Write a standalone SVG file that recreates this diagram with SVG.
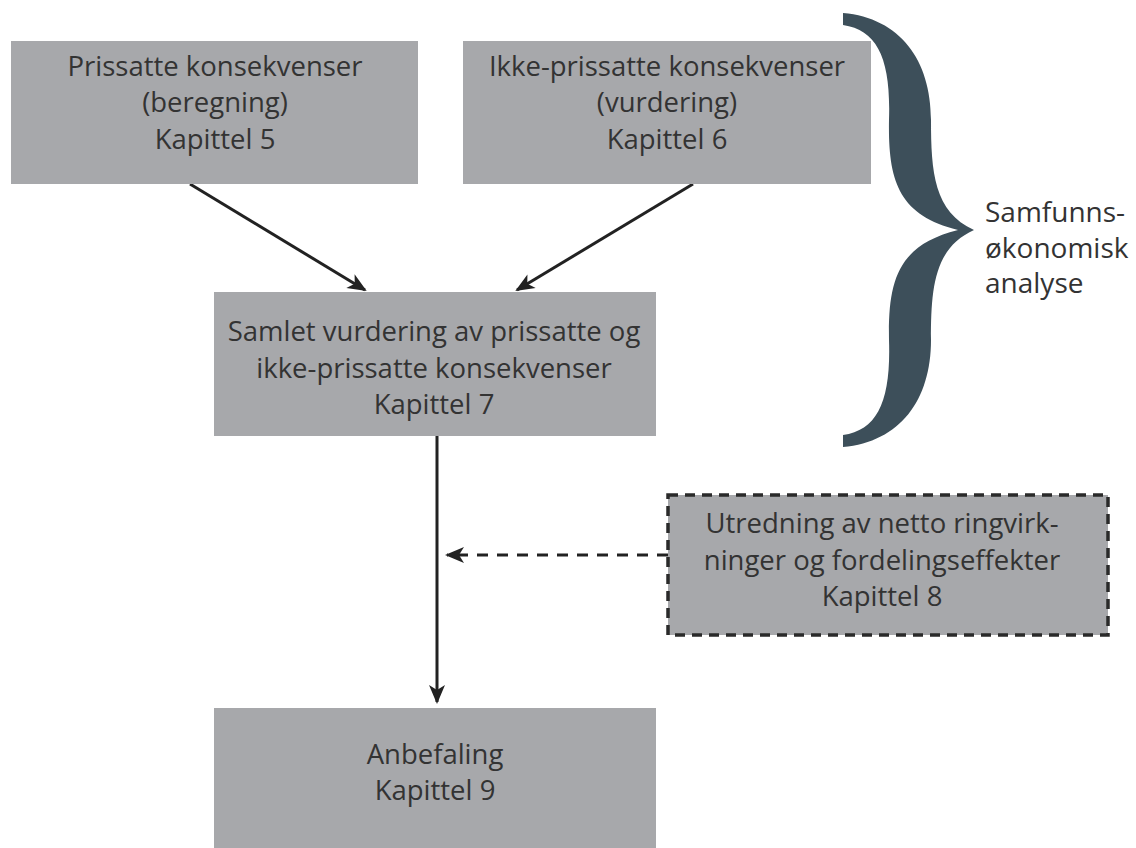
<svg xmlns="http://www.w3.org/2000/svg" width="1136" height="848" viewBox="0 0 1136 848">
<style>
.box{fill:#a7a8ab}
.dash{fill:#a7a8ab;stroke:#2a2a2a;stroke-width:3.5;stroke-dasharray:10 7}
.t{font-family:"Open Sans","Liberation Sans",sans-serif;font-size:27.5px;fill:#333;text-anchor:middle}
.lbl{font-family:"Open Sans","Liberation Sans",sans-serif;font-size:28px;fill:#333}
.c{stroke:#222;stroke-width:3;fill:none}
</style>
<defs>
<marker id="ah" markerUnits="userSpaceOnUse" markerWidth="24" markerHeight="20" viewBox="-20 -10 24 20" refX="0" refY="0" orient="auto">
<path d="M2,0 L-17,-8 L-12,0 L-17,8 Z" fill="#222"/>
</marker>
</defs>
<rect width="1136" height="848" fill="#fff"/>
<g id="connectors">
<line class="c" x1="190" y1="184" x2="365" y2="290" marker-end="url(#ah)"/>
<line class="c" x1="693" y1="184" x2="517" y2="290" marker-end="url(#ah)"/>
<line class="c" x1="437" y1="436" x2="437" y2="702" marker-end="url(#ah)"/>
<line class="c" x1="668" y1="555" x2="447" y2="555" stroke-width="3.5" stroke-dasharray="11 9" marker-end="url(#ah)"/>
</g>
<g id="n1">
<rect class="box" x="11" y="41" width="407" height="143"/>
<text class="t" x="215" y="76">Prissatte konsekvenser</text>
<text class="t" x="215" y="112">(beregning)</text>
<text class="t" x="215" y="149">Kapittel 5</text>
</g>
<g id="n2">
<rect class="box" x="463" y="41" width="408" height="143"/>
<text class="t" x="667" y="76">Ikke-prissatte konsekvenser</text>
<text class="t" x="667" y="112">(vurdering)</text>
<text class="t" x="667" y="149">Kapittel 6</text>
</g>
<g id="n3">
<rect class="box" x="214" y="292" width="442" height="144"/>
<text class="t" x="434" y="341">Samlet vurdering av prissatte og</text>
<text class="t" x="434" y="378">ikke-prissatte konsekvenser</text>
<text class="t" x="434" y="414">Kapittel 7</text>
</g>
<g id="n4">
<rect class="dash" x="668" y="495" width="440" height="140"/>
<text class="t" x="882" y="533">Utredning av netto ringvirk-</text>
<text class="t" x="882" y="570">ninger og fordelingseffekter</text>
<text class="t" x="882" y="606">Kapittel 8</text>
</g>
<g id="n5">
<rect class="box" x="214" y="708" width="442" height="140"/>
<text class="t" x="435" y="764">Anbefaling</text>
<text class="t" x="435" y="800">Kapittel 9</text>
</g>
<g id="brace">
<path fill="#3d4f5a" d="M843,13 C900,18 931,60 931,120 C931,172 934,212 974,230 C934,248 931,288 931,340 C931,400 900,442 843,447 L843,435 C878,430 891,400 889,340 C888,280 898,245 958,230 C898,215 888,180 889,120 C891,60 878,30 843,25 Z"/>
<text class="lbl" x="985" y="222">Samfunns-</text>
<text class="lbl" x="985" y="258">økonomisk</text>
<text class="lbl" x="985" y="293">analyse</text>
</g>
</svg>
